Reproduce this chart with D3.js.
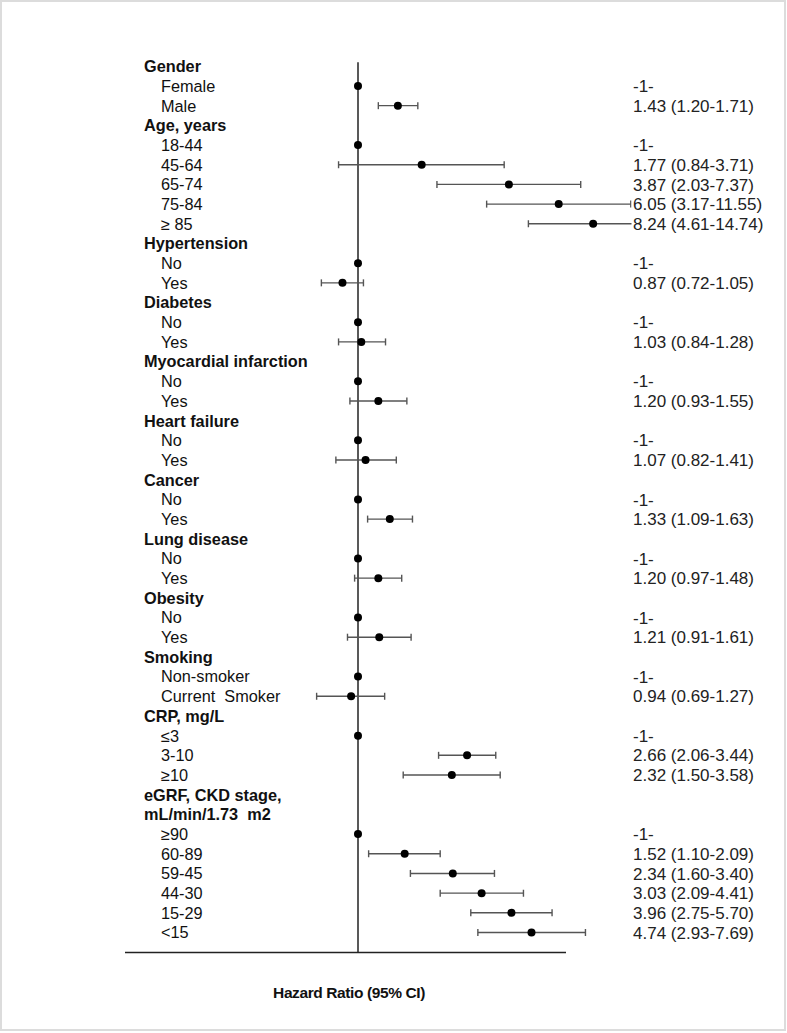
<!DOCTYPE html>
<html>
<head>
<meta charset="utf-8">
<script src="https://cdn.jsdelivr.net/npm/d3@7"></script>
<style>
	body { margin: 0; background: #fff; }
	svg text { font-family: "Liberation Sans", Arial, sans-serif; }
</style>
</head>
<body>
<svg id="forest"></svg>
<script>
/*
	Data
	* one entry per row, header rows carry null values
	* reference categories have hr = 1 and no interval
*/
const labels = [
	'Gender', 'Female', 'Male',
	'Age, years', '18-44', '45-64', '65-74', '75-84', '\u2265 85',
	'Hypertension', 'No', 'Yes',
	'Diabetes', 'No', 'Yes',
	'Myocardial infarction', 'No', 'Yes',
	'Heart failure', 'No', 'Yes',
	'Cancer', 'No', 'Yes',
	'Lung disease', 'No', 'Yes',
	'Obesity', 'No', 'Yes',
	'Smoking', 'Non-smoker', 'Current\u00a0 Smoker',
	'CRP, mg/L', '\u22643', '3-10', '\u226510',
	'eGRF, CKD stage,', 'mL/min/1.73\u00a0 m2', '\u226590', '60-89', '59-45', '44-30', '15-29', '<15'
]
const headerRows = [0, 3, 9, 12, 15, 18, 21, 24, 27, 30, 33, 37, 38]
const hr = [
	null, 1, 1.43,
	null, 1, 1.77, 3.87, 6.05, 8.24,
	null, 1, 0.87,
	null, 1, 1.03,
	null, 1, 1.20,
	null, 1, 1.07,
	null, 1, 1.33,
	null, 1, 1.20,
	null, 1, 1.21,
	null, 1, 0.94,
	null, 1, 2.66, 2.32,
	null, null, 1, 1.52, 2.34, 3.03, 3.96, 4.74
]
const lower = [
	null, null, 1.20,
	null, null, 0.84, 2.03, 3.17, 4.61,
	null, null, 0.72,
	null, null, 0.84,
	null, null, 0.93,
	null, null, 0.82,
	null, null, 1.09,
	null, null, 0.97,
	null, null, 0.91,
	null, null, 0.69,
	null, null, 2.06, 1.50,
	null, null, null, 1.10, 1.60, 2.09, 2.75, 2.93
]
const upper = [
	null, null, 1.71,
	null, null, 3.71, 7.37, 11.55, 14.74,
	null, null, 1.05,
	null, null, 1.28,
	null, null, 1.55,
	null, null, 1.41,
	null, null, 1.63,
	null, null, 1.48,
	null, null, 1.61,
	null, null, 1.27,
	null, null, 3.44, 3.58,
	null, null, null, 2.09, 3.40, 4.41, 5.70, 7.69
]
const axisTitle = 'Hazard Ratio (95% CI)'

/*
	Drawing constants
*/
const [width, height] = [787, 1033]
const refX = 358
const pxPerLn = 111.5
const valueX = 633
const axisY = 952.5
const capHalf = 3.5
const dotRadius = 4

const svg = d3.select('#forest').attr('width', width).attr('height', height)

// light frame round the whole figure
svg.append('rect')
	.attr('x', 1).attr('y', 1)
	.attr('width', width - 3).attr('height', height - 4)
	.attr('fill', '#fff')
	.attr('stroke', '#dcdcdc')
	.attr('stroke-width', 2)

//log scale: 1 sits on the reference line, one ln unit is pxPerLn wide
const x = d3.scaleLog().domain([1, 10]).range([refX, refX + pxPerLn * Math.LN10])
const y = d3.scaleLinear().domain([0, labels.length - 1]).range([66.3, 932.5])

const rows = labels.map((label, i) => ({
	i, label,
	header: headerRows.includes(i),
	hr: hr[i], lo: lower[i], hi: upper[i]
}))

// intervals stop where the value column begins
svg.append('clipPath').attr('id', 'plot-clip')
	.append('rect').attr('x', 0).attr('y', 0).attr('width', valueX - 1.5).attr('height', height)

// reference line and bottom rule
svg.append('line')
	.attr('x1', x(1)).attr('x2', x(1))
	.attr('y1', y(0) - 4).attr('y2', axisY)
	.attr('stroke', '#222').attr('stroke-width', 1.5)
svg.append('line')
	.attr('x1', 125).attr('x2', 566)
	.attr('y1', axisY).attr('y2', axisY)
	.attr('stroke', '#222').attr('stroke-width', 1.5)

// labels
svg.append('g').selectAll('text')
	.data(rows)
	.join('text')
	.attr('x', d => d.header ? 144 : 161)
	.attr('y', d => y(d.i))
	.attr('dy', '0.36em')
	.attr('font-size', 16.3)
	.attr('font-weight', d => d.header ? 'bold' : 'normal')
	.attr('fill', '#111')
	.text(d => d.label)

// confidence intervals
const ciRows = rows.filter(d => d.lo !== null)
const ci = svg.append('g').attr('clip-path', 'url(#plot-clip)')
	.attr('stroke', '#555').attr('stroke-width', 1.4)
ci.selectAll('.ci-line')
	.data(ciRows)
	.join('line')
	.attr('x1', d => x(d.lo)).attr('x2', d => x(d.hi))
	.attr('y1', d => y(d.i)).attr('y2', d => y(d.i))
ci.selectAll('.cap-lo')
	.data(ciRows)
	.join('line').classed('cap-lo', true)
	.attr('x1', d => x(d.lo)).attr('x2', d => x(d.lo))
	.attr('y1', d => y(d.i) - capHalf).attr('y2', d => y(d.i) + capHalf)
ci.selectAll('.cap-hi')
	.data(ciRows)
	.join('line').classed('cap-hi', true)
	.attr('x1', d => x(d.hi)).attr('x2', d => x(d.hi))
	.attr('y1', d => y(d.i) - capHalf).attr('y2', d => y(d.i) + capHalf)

// point estimates
svg.append('g').selectAll('circle')
	.data(rows.filter(d => d.hr !== null))
	.join('circle')
	.attr('cx', d => x(d.hr))
	.attr('cy', d => y(d.i))
	.attr('r', dotRadius)
	.attr('fill', '#000')

// value column
const fmt = d3.format('.2f')
svg.append('g').selectAll('text')
	.data(rows.filter(d => d.hr !== null))
	.join('text')
	.attr('x', valueX)
	.attr('y', d => y(d.i))
	.attr('dy', '0.36em')
	.attr('font-size', 17)
	.attr('fill', '#222')
	.text(d => d.lo === null ? '-1-' : `${fmt(d.hr)} (${fmt(d.lo)}-${fmt(d.hi)})`)

svg.append('text')
	.attr('x', 349).attr('y', 992)
	.attr('dy', '0.36em')
	.attr('text-anchor', 'middle')
	.attr('font-size', 15.5)
	.attr('font-weight', 'bold')
	.attr('letter-spacing', -0.4)
	.attr('fill', '#111')
	.text(axisTitle)
</script>
</body>
</html>
